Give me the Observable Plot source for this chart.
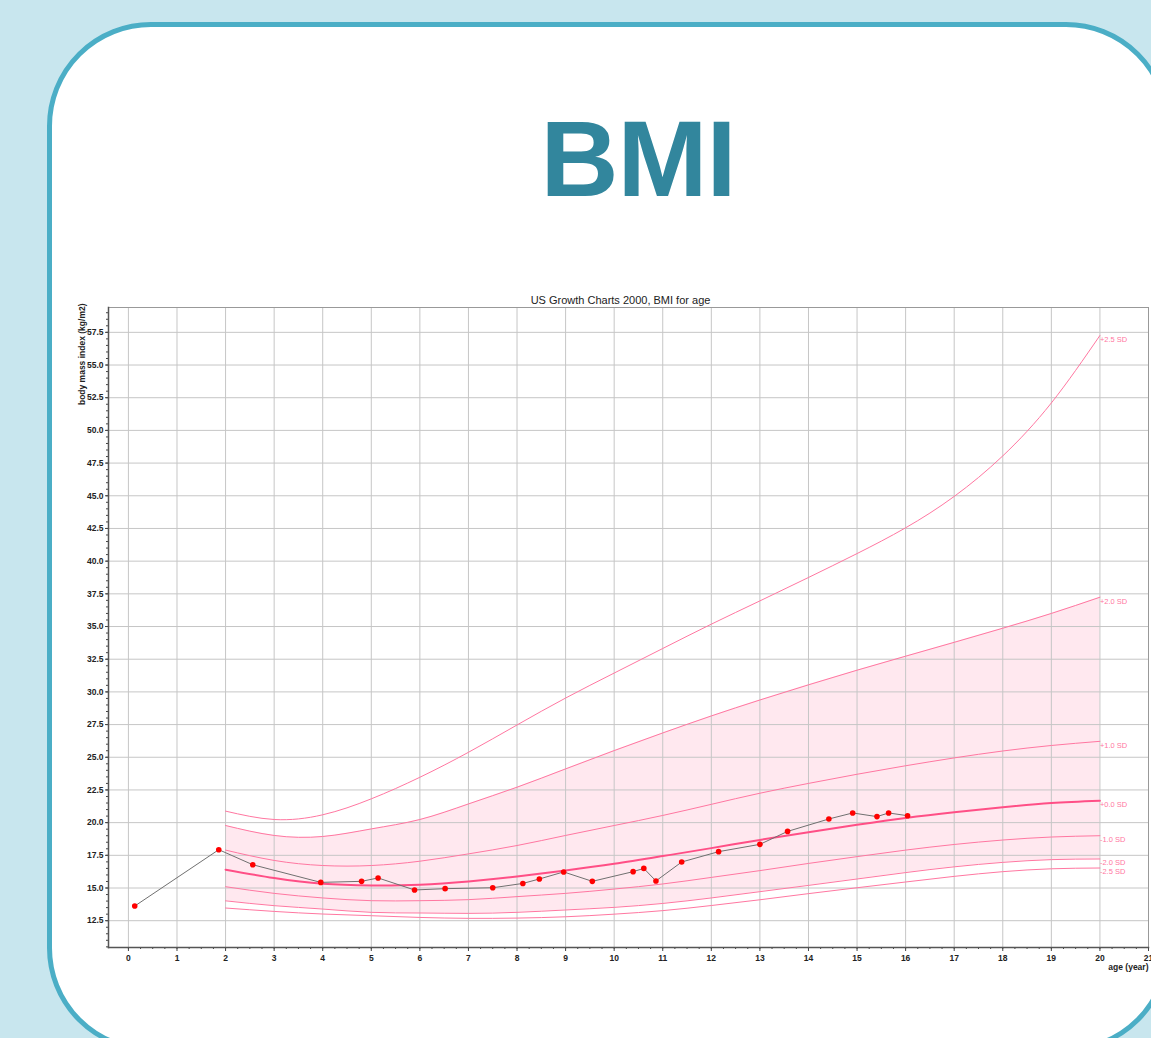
<!DOCTYPE html>
<html>
<head>
<meta charset="utf-8">
<script src="https://cdn.jsdelivr.net/npm/d3@7"></script>
<script src="https://cdn.jsdelivr.net/npm/@observablehq/plot@0.6"></script>
<style>
  html, body { margin: 0; padding: 0; width: 1151px; height: 1038px; overflow: hidden; background: #c8e6ee; }
  #card { position: absolute; left: 47px; top: 22px; width: 1113px; height: 1020px; background: #fff;
          border: 5px solid #4baec6; border-radius: 104px; }
  #heading { position: absolute; left: 438px; width: 400px; top: 105px; text-align: center;
             font: bold 108px/108px "Liberation Sans", Arial, sans-serif; color: #32869d; letter-spacing: -1px; }
  #chart { position: absolute; left: 0; top: 285px; }
  #chart svg { overflow: visible; }
</style>
</head>
<body>
<div id="card"></div>
<div id="heading">BMI</div>
<div id="chart"></div>
<script>
// Reference curves: BMI for age, US Growth Charts 2000, by SD line (ages 2–20)
const ages  = [2, 3, 4, 5, 6, 7, 8, 9, 10, 11, 12, 13, 14, 15, 16, 17, 18, 19, 20];
const sdP25 = [20.88, 20.24, 20.6, 21.82, 23.47, 25.38, 27.47, 29.53, 31.44, 33.32, 35.18, 36.96, 38.75, 40.58, 42.55, 44.95, 48.05, 52.1, 57.26];
const sdP20 = [19.78, 19.02, 18.94, 19.52, 20.24, 21.43, 22.71, 24.11, 25.51, 26.86, 28.16, 29.38, 30.54, 31.66, 32.73, 33.79, 34.87, 36.0, 37.24];
const sdP10 = [17.9, 17.11, 16.72, 16.72, 17.05, 17.61, 18.25, 19.02, 19.78, 20.55, 21.4, 22.25, 23.0, 23.7, 24.35, 24.95, 25.48, 25.9, 26.22];
const sd00  = [16.4, 15.76, 15.32, 15.2, 15.25, 15.5, 15.88, 16.34, 16.85, 17.44, 18.05, 18.68, 19.27, 19.83, 20.36, 20.8, 21.18, 21.5, 21.68];
const sdM10 = [15.1, 14.59, 14.24, 14.03, 14.03, 14.11, 14.34, 14.59, 14.92, 15.31, 15.81, 16.33, 16.88, 17.4, 17.9, 18.33, 18.67, 18.9, 19.0];
const sdM20 = [14.02, 13.65, 13.39, 13.14, 13.09, 13.06, 13.14, 13.32, 13.52, 13.82, 14.24, 14.72, 15.2, 15.69, 16.18, 16.62, 16.96, 17.17, 17.22];
const sdM25 = [13.47, 13.21, 13.01, 12.88, 12.75, 12.68, 12.7, 12.8, 13.0, 13.27, 13.66, 14.1, 14.57, 15.02, 15.46, 15.89, 16.25, 16.47, 16.53];
const sdLabels = ["+2.5 SD", "+2.0 SD", "+1.0 SD", "+0.0 SD", "-1.0 SD", "-2.0 SD", "-2.5 SD"];

// Measurements of the child: age (years) and BMI (kg/m2)
const visitAge = [0.13, 1.86, 2.56, 3.96, 4.8, 5.14, 5.89, 6.52, 7.5, 8.12, 8.46, 8.96, 9.55, 10.39, 10.61, 10.86, 11.39, 12.15, 13.0, 13.57, 14.42, 14.91, 15.41, 15.65, 16.04];
const visitBmi = [13.62, 17.93, 16.78, 15.43, 15.51, 15.77, 14.85, 14.95, 15.02, 15.35, 15.69, 16.23, 15.51, 16.25, 16.5, 15.54, 16.99, 17.78, 18.34, 19.33, 20.28, 20.74, 20.46, 20.74, 20.53];

// Axis ticks
const xTicks = [0, 1, 2, 3, 4, 5, 6, 7, 8, 9, 10, 11, 12, 13, 14, 15, 16, 17, 18, 19, 20, 21];
const yTicks = [12.5, 15, 17.5, 20, 22.5, 25, 27.5, 30, 32.5, 35, 37.5, 40, 42.5, 45, 47.5, 50, 52.5, 55, 57.5];
const xMinor = d3.range(0, 21.01, 0.25);
const yMinor = d3.range(10.5, 59.01, 0.5);

const sdSeries = [sdP25, sdP20, sdP10, sd00, sdM10, sdM20, sdM25];
const curveRows = sdSeries.flatMap((vals, k) => ages.map((a, i) => ({age: a, bmi: vals[i], sd: sdLabels[k]})));
const endRows = sdSeries.map((vals, k) => ({age: ages[ages.length - 1], bmi: vals[vals.length - 1], sd: sdLabels[k]}));
const bandRows = ages.map((a, i) => ({age: a, lo: sdM20[i], hi: sdP20[i]}));
const visits = visitAge.map((a, i) => ({age: a, bmi: visitBmi[i]}));

const pink = "#ff77a1";
const font = "Liberation Sans, Arial, sans-serif";

const chart = Plot.plot({
  width: 1151,
  height: 700,
  marginTop: 22,
  marginBottom: 38,
  marginLeft: 108,
  marginRight: 3,
  style: {fontFamily: font, fontSize: "8.5px", color: "#222", background: "transparent"},
  x: {domain: [-0.41, 21]},
  y: {domain: [10.45, 59.4]},
  marks: [
    Plot.areaY(bandRows, {x: "age", y1: "lo", y2: "hi", fill: "#ffe8ef", curve: "natural"}),
    Plot.gridX({ticks: xTicks, stroke: "#c6c6c6", strokeOpacity: 1}),
    Plot.gridY({ticks: yTicks, stroke: "#c6c6c6", strokeOpacity: 1}),
    Plot.line(curveRows.filter(d => d.sd !== "+0.0 SD"), {x: "age", y: "bmi", z: "sd", stroke: pink, strokeWidth: 1, curve: "natural"}),
    Plot.line(curveRows.filter(d => d.sd === "+0.0 SD"), {x: "age", y: "bmi", stroke: "#ff4f86", strokeWidth: 2, curve: "natural"}),
    Plot.text(endRows, {x: "age", y: "bmi", text: "sd", textAnchor: "start", dx: 0, dy: 4, fill: pink, fontSize: 7.5, fontFamily: font}),
    Plot.line(visits, {x: "age", y: "bmi", stroke: "#707070", strokeWidth: 1}),
    Plot.dot(visits, {x: "age", y: "bmi", r: 2.8, fill: "#ff0000", stroke: "none"}),
    Plot.frame({stroke: "#999"}),
    Plot.axisY({ticks: yTicks, tickFormat: d3.format(".1f"), tickSize: 3, tickPadding: 2, label: null, fontWeight: "bold", fontSize: 8.5, stroke: "#444"}),
    Plot.axisY({ticks: yMinor, tickSize: 2, tickFormat: () => "", label: null, stroke: "#444"}),
    Plot.axisX({ticks: xTicks, tickSize: 4, tickPadding: 3, label: null, fontWeight: "bold", fontSize: 8.5, stroke: "#444"}),
    Plot.axisX({ticks: xMinor, tickSize: 2, tickFormat: () => "", label: null, stroke: "#444"}),
    Plot.frame({anchor: "left", stroke: "#555", strokeWidth: 1.5}),
    Plot.frame({anchor: "bottom", stroke: "#555", strokeWidth: 1.5}),
    Plot.text(["US Growth Charts 2000, BMI for age"], {frameAnchor: "top", text: d => d, dx: -8, dy: -7, lineAnchor: "middle", fontSize: 11, fill: "#222", fontFamily: font}),
    Plot.text(["body mass index (kg/m2)"], {frameAnchor: "top-left", text: d => d, rotate: -90, textAnchor: "end", lineAnchor: "middle", dx: -26, dy: -4, fontSize: 8.5, fontWeight: "bold", fill: "#222", fontFamily: font}),
    Plot.text(["age (year)"], {frameAnchor: "bottom-right", text: d => d, textAnchor: "end", lineAnchor: "middle", dy: 20, fontSize: 8.5, fontWeight: "bold", fill: "#222", fontFamily: font})
  ]
});
document.getElementById("chart").append(chart);
</script>
</body>
</html>
